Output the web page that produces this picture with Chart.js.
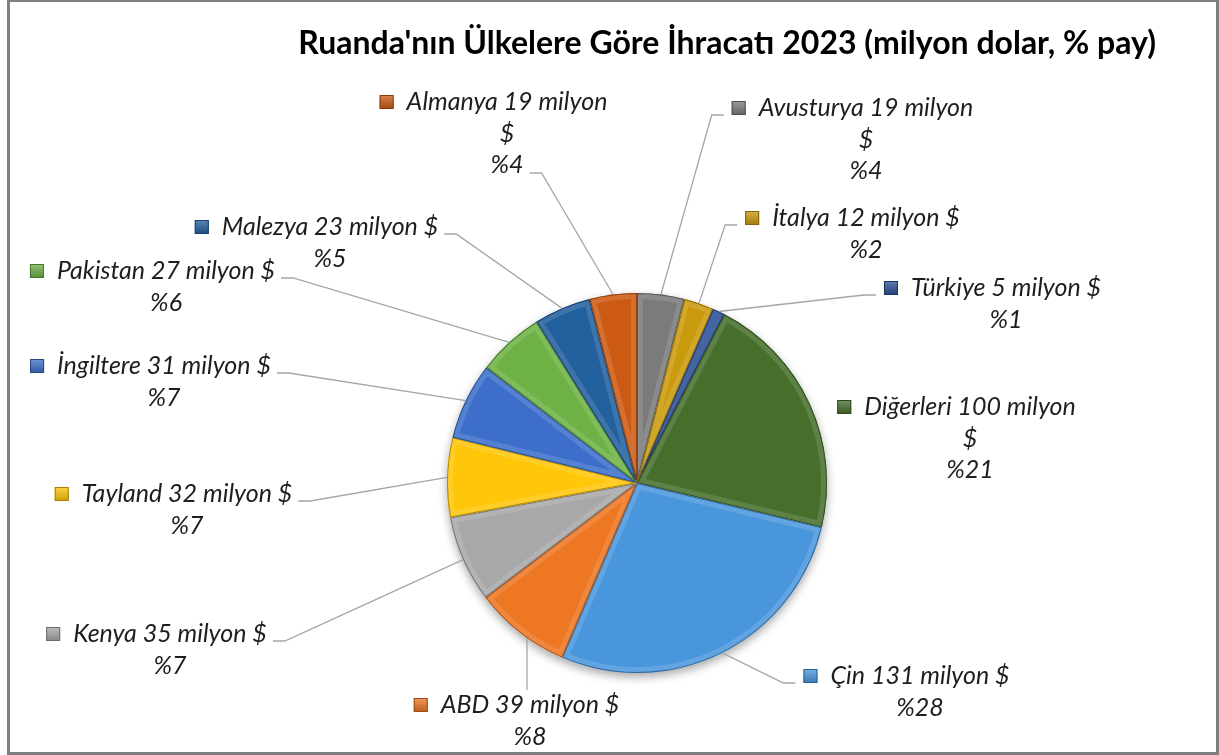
<!DOCTYPE html>
<html lang="tr">
<head>
<meta charset="utf-8">
<title>Ruanda ihracatı 2023</title>
<script src="https://cdn.jsdelivr.net/npm/chart.js@4.4.1/dist/chart.umd.min.js"></script>
<style>
  html, body { margin: 0; padding: 0; background: #fff; }
  #wrap { position: relative; width: 1219px; height: 755px; }
</style>
</head>
<body>
<div id="wrap"><canvas id="pie"></canvas></div>
<script>
// data, clockwise from 12 o'clock
const countries = ['Avusturya', 'İtalya', 'Türkiye', 'Diğerleri', 'Çin', 'ABD', 'Kenya', 'Tayland', 'İngiltere', 'Pakistan', 'Malezya', 'Almanya'];
const exportsMn = [19, 12, 5, 100, 131, 39, 35, 32, 31, 27, 23, 19];
const sharePct  = [4, 2, 1, 21, 28, 8, 7, 7, 7, 6, 5, 4];
const sliceColors = ['#7b7b7b', '#c99a0c', '#2a4f94', '#476f2c', '#4a96dc', '#ee7723',
                     '#a8a8a8', '#ffc60a', '#3d6fca', '#6eb245', '#22609e', '#cc5a12'];

// label layout: text centre / first line, relative to pie centre (px at r=190)
const labelAt = [[229, -375], [229, -265], [369, -195], [333, -76], [283, 193], [-107, 222],
                 [-467, 151], [-450, 11], [-473, -117], [-471, -212], [-307, -256], [-130, -381]];
const leaderSide = ['l', 'l', 'l', 'n', 'l', 't', 'r', 'r', 'r', 'r', 'r', 'rl'];
const wrapDollar = ['Avusturya', 'Diğerleri', 'Almanya'];

const LABEL_FONT = 'italic 25px Lato';
const LINE_H = 31.5, MK = 14, MK_GAP = 13;

function labelLines(i){
  const head = `${countries[i]} ${exportsMn[i]} milyon`;
  const pct = '%' + sharePct[i];
  return wrapDollar.includes(countries[i]) ? [head, '$', pct] : [head + ' $', pct];
}

function shade(hex, amt){
  const n = parseInt(hex.slice(1), 16);
  const f = c => Math.max(0, Math.min(255, Math.round(c + (amt > 0 ? (255 - c) : c) * amt)));
  return `rgb(${f(n >> 16)},${f((n >> 8) & 255)},${f(n & 255)})`;
}

const frame = {
  id: 'frame',
  beforeDraw(chart){
    const ctx = chart.ctx;
    ctx.save();
    ctx.fillStyle = '#fff';
    ctx.fillRect(0, 0, chart.width, chart.height);
    ctx.strokeStyle = '#7f7f7f';
    ctx.lineWidth = 3;
    ctx.strokeRect(8.5, 0.5, chart.width - 10, chart.height - 2);
    ctx.restore();
  }
};

const pieShadow = {
  id: 'pieShadow',
  beforeDatasetsDraw(chart){
    const a = chart.getDatasetMeta(0).data[0];
    if(!a) return;
    const ctx = chart.ctx;
    ctx.save();
    ctx.shadowColor = 'rgba(0,0,0,0.35)';
    ctx.shadowBlur = 10;
    ctx.shadowOffsetY = 4;
    ctx.fillStyle = '#fff';
    ctx.beginPath();
    ctx.arc(a.x, a.y, a.outerRadius, 0, Math.PI * 2);
    ctx.fill();
    ctx.restore();
  }
};

const bevel = {
  id: 'bevel',
  afterDatasetsDraw(chart){
    const ctx = chart.ctx;
    chart.getDatasetMeta(0).data.forEach((a, i) => {
      ctx.save();
      ctx.beginPath();
      ctx.moveTo(a.x, a.y);
      ctx.arc(a.x, a.y, a.outerRadius, a.startAngle, a.endAngle);
      ctx.closePath();
      ctx.clip();
      ctx.lineJoin = 'round';
      ctx.lineWidth = 12;
      ctx.strokeStyle = shade(sliceColors[i], 0.18);
      ctx.globalAlpha = 0.7;
      ctx.stroke();
      ctx.globalAlpha = 1;
      ctx.lineWidth = 2;
      ctx.strokeStyle = shade(sliceColors[i], -0.3);
      ctx.stroke();
      ctx.restore();
    });
  }
};

const outLabels = {
  id: 'outLabels',
  afterDraw(chart){
    const ctx = chart.ctx;
    const meta = chart.getDatasetMeta(0);
    const c = meta.data[0];
    const cx = c.x, cy = c.y, r = c.outerRadius, k = r / 190;
    ctx.save();
    ctx.font = LABEL_FONT;
    ctx.textAlign = 'center';
    ctx.textBaseline = 'middle';
    meta.data.forEach((arc, i) => {
      const lines = labelLines(i);
      const tx = cx + labelAt[i][0] * k, ty = cy + labelAt[i][1] * k;
      const w0 = ctx.measureText(lines[0]).width;
      const mx = tx - w0 / 2 - MK_GAP - MK;
      // leader line
      const mid = (arc.startAngle + arc.endAngle) / 2;
      let px = cx + Math.cos(mid) * r, py = cy + Math.sin(mid) * r;
      let sx, sy, ex;
      const side = leaderSide[i];
      if(side !== 'n'){
        if(side === 'r'){ sx = tx + w0 / 2 + 6; sy = ty + 7; ex = sx + 12; }
        else if(side === 'rl'){
          const n = lines.length - 1;
          sx = tx + ctx.measureText(lines[n]).width / 2 + 6; sy = ty + n * LINE_H + 8; ex = sx + 12;
        }
        else if(side === 'l'){ sx = mx - 8; sy = ty + 7; ex = sx - 12; }
        else { sx = tx - 3; sy = ty - 15; ex = sx; px = sx; py = cy + Math.sqrt(r * r - (sx - cx) * (sx - cx)); }
        ctx.strokeStyle = '#a6a6a6';
        ctx.lineWidth = 1.3;
        ctx.beginPath();
        ctx.moveTo(sx, sy);
        ctx.lineTo(ex, sy);
        ctx.lineTo(px, py);
        ctx.stroke();
      }
      // legend key
      const my = ty - MK / 2;
      const g = ctx.createLinearGradient(mx, my, mx, my + MK);
      g.addColorStop(0, shade(sliceColors[i], 0.25));
      g.addColorStop(1, shade(sliceColors[i], -0.2));
      ctx.fillStyle = g;
      ctx.fillRect(mx, my, MK, MK);
      ctx.strokeStyle = shade(sliceColors[i], -0.35);
      ctx.lineWidth = 1;
      ctx.strokeRect(mx + 0.5, my + 0.5, MK - 1, MK - 1);
      // text
      ctx.fillStyle = '#1e1e1e';
      lines.forEach((s, j) => ctx.fillText(s, tx, ty + j * LINE_H));
    });
    ctx.restore();
  }
};

new Chart(document.getElementById('pie'), {
  type: 'pie',
  data: {
    labels: countries,
    datasets: [{
      data: exportsMn,
      backgroundColor: sliceColors,
      borderColor: 'rgba(0,0,0,0)',
      borderWidth: 0,
      hoverOffset: 0
    }]
  },
  options: {
    responsive: true,
    maintainAspectRatio: false,
    animation: false,
    rotation: 0,
    layout: { padding: { left: 118, right: 63, top: 8, bottom: 82 } },
    plugins: {
      legend: { display: false },
      tooltip: { enabled: false },
      title: {
        display: true,
        text: "Ruanda'nın Ülkelere Göre İhracatı 2023 (milyon dolar, % pay)",
        align: 'end',
        color: '#000',
        font: { family: 'Lato', size: 32, weight: 'bold' },
        padding: { top: 16, bottom: 230.6 }
      }
    }
  },
  plugins: [frame, pieShadow, bevel, outLabels]
});
</script>
</body>
</html>
